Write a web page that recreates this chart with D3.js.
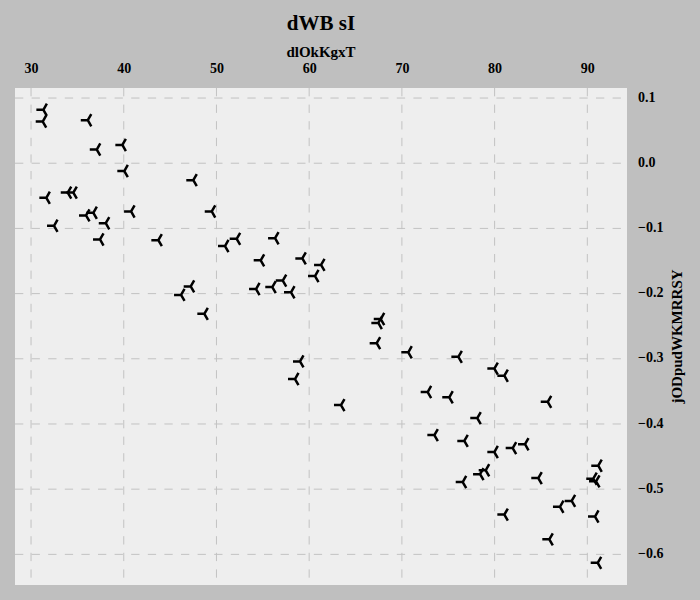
<!DOCTYPE html>
<html lang="en">
<head>
  <meta charset="UTF-8">
  <title>dWB sI</title>
  <script src="https://d3js.org/d3.v7.min.js"></script>
  <style>
    body { margin: 0; background: #bfbfbf; }
    svg text { font-family: "Liberation Serif", "Times New Roman", serif; font-weight: bold; fill: #000; }
  </style>
</head>
<body>
  <div id="chart"></div>
  <script>
    // data
    const xValues = [
      31.33, 31.26, 36.12, 37.09, 39.85, 40.06, 47.50, 31.65, 33.96, 34.56,
      35.93, 36.72, 38.06, 32.48, 37.44, 40.79, 49.49, 43.73, 46.18, 47.22,
      48.69, 50.92, 52.18, 56.32, 54.77, 59.26, 61.28, 60.63, 54.27, 56.02,
      57.15, 58.04, 67.72, 67.46, 67.28, 70.69, 59.01, 58.47, 63.43, 76.09,
      79.97, 81.05, 72.78, 75.11, 85.73, 78.13, 73.50, 76.73, 79.97, 81.95,
      83.28, 91.18, 90.64, 90.94, 84.71, 76.56, 78.43, 79.04, 88.31, 87.05,
      81.05, 90.83, 85.90, 91.12
    ];
    const yValues = [
      0.082, 0.064, 0.066, 0.021, 0.028, -0.012, -0.026, -0.053, -0.045, -0.045,
      -0.080, -0.076, -0.092, -0.096, -0.117, -0.074, -0.074, -0.118, -0.202, -0.189,
      -0.231, -0.127, -0.116, -0.115, -0.149, -0.146, -0.156, -0.173, -0.193, -0.190,
      -0.180, -0.198, -0.239, -0.245, -0.276, -0.290, -0.304, -0.331, -0.371, -0.297,
      -0.315, -0.326, -0.351, -0.359, -0.366, -0.391, -0.417, -0.426, -0.443, -0.437,
      -0.431, -0.464, -0.484, -0.488, -0.483, -0.489, -0.477, -0.471, -0.518, -0.527,
      -0.539, -0.542, -0.577, -0.613
    ];
    const xTicks = [30, 40, 50, 60, 70, 80, 90];
    const yTicks = [0.1, 0.0, -0.1, -0.2, -0.3, -0.4, -0.5, -0.6];

    const width = 700, height = 600;
    const margin = {top: 88, right: 73, bottom: 15, left: 15};
    const plotW = width - margin.left - margin.right;
    const plotH = height - margin.top - margin.bottom;

    const svg = d3.select("#chart")
      .append("svg")
      .attr("width", width)
      .attr("height", height);

    svg.append("rect")
      .attr("width", width)
      .attr("height", height)
      .attr("fill", "#bfbfbf");

    const x = d3.scaleLinear().domain([28.27, 94.28]).range([0, plotW]);
    const y = d3.scaleLinear().domain([0.1154, -0.647]).range([0, plotH]);

    const g = svg.append("g")
      .attr("transform", `translate(${margin.left},${margin.top})`);

    g.append("rect")
      .attr("width", plotW)
      .attr("height", plotH)
      .attr("fill", "#eeeeee");

    // grid
    g.append("g")
      .selectAll("line")
      .data(xTicks)
      .join("line")
      .attr("x1", d => x(d)).attr("x2", d => x(d))
      .attr("y1", 0).attr("y2", plotH)
      .attr("stroke", "#c2c2c2")
      .attr("stroke-width", 1)
      .attr("stroke-dasharray", "8.3,8.3");

    g.append("g")
      .selectAll("line")
      .data(yTicks)
      .join("line")
      .attr("x1", 0).attr("x2", plotW)
      .attr("y1", d => y(d)).attr("y2", d => y(d))
      .attr("stroke", "#c2c2c2")
      .attr("stroke-width", 1)
      .attr("stroke-dasharray", "8.3,8.3");

    // top axis, labels only
    const xAxis = d3.axisTop(x)
      .tickValues(xTicks)
      .tickSize(0)
      .tickPadding(14)
      .tickFormat(d3.format("d"));
    g.append("g")
      .call(xAxis)
      .call(a => a.select(".domain").remove())
      .selectAll("text")
      .attr("font-size", "14px")
      .attr("dy", "-0.05em")
      .attr("font-family", null);

    // right axis, labels only
    const yAxis = d3.axisRight(y)
      .tickValues(yTicks)
      .tickSize(0)
      .tickPadding(11)
      .tickFormat(d => d3.format(".1f")(d).replace("-", "\u2212"));
    g.append("g")
      .attr("transform", `translate(${plotW},0)`)
      .call(yAxis)
      .call(a => a.select(".domain").remove())
      .selectAll("text")
      .attr("font-size", "14px")
      .attr("dy", "0.22em")
      .attr("font-family", null);

    // tri_left markers
    const r = 7;
    const tri = `M0,0L${-r},0M0,0L${r * 0.5},${-r * 0.866}M0,0L${r * 0.5},${r * 0.866}`;
    g.append("g")
      .selectAll("path")
      .data(xValues.map((v, i) => [v, yValues[i]]))
      .join("path")
      .attr("transform", d => `translate(${x(d[0])},${y(d[1])})`)
      .attr("d", tri)
      .attr("fill", "none")
      .attr("stroke", "#000")
      .attr("stroke-width", 2.5);

    // titles
    svg.append("text")
      .attr("x", margin.left + plotW / 2)
      .attr("y", 30)
      .attr("text-anchor", "middle")
      .attr("font-size", "21px")
      .text("dWB sI");

    svg.append("text")
      .attr("x", margin.left + plotW / 2)
      .attr("y", 57)
      .attr("text-anchor", "middle")
      .attr("font-size", "15px")
      .text("dlOkKgxT");

    svg.append("text")
      .attr("transform", `translate(682,${margin.top + plotH / 2}) rotate(-90)`)
      .attr("text-anchor", "middle")
      .attr("font-size", "15px")
      .text("jODpudWKMRRSY");
  </script>
</body>
</html>
